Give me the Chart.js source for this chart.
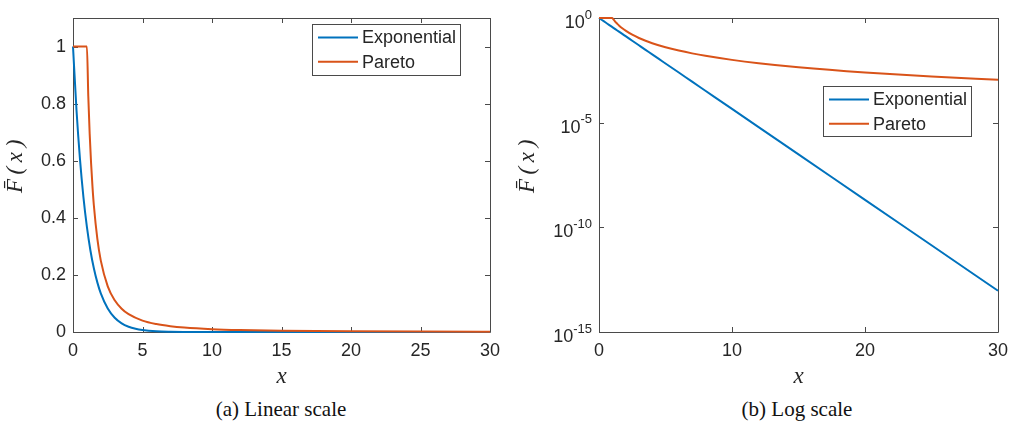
<!DOCTYPE html>
<html><head><meta charset="utf-8">
<script src="https://cdn.jsdelivr.net/npm/chart.js@4.4.1/dist/chart.umd.min.js"></script>
<style>
html,body{margin:0;padding:0;background:#fff;}
#wrap{position:relative;width:1009px;height:422px;overflow:hidden;background:#fff;}
#c1{position:absolute;left:0;top:0;width:505px;height:392px;}
#c2{position:absolute;left:505px;top:0;width:504px;height:392px;}
.cap{position:absolute;top:397px;font-family:'Liberation Serif','Times New Roman',serif;font-size:21px;color:#111;white-space:nowrap;transform:translateX(-50%);line-height:24px;}
</style></head><body>
<div id="wrap">
<canvas id="c1" width="505" height="392"></canvas>
<canvas id="c2" width="504" height="392"></canvas>
<div class="cap" style="left:281px">(a) Linear scale</div>
<div class="cap" style="left:797px">(b) Log scale</div>
</div>
<script>
// ---- data ----
const seriesNames = ['Exponential', 'Pareto'];
const expX = [0, 0.25, 0.5, 0.75, 1, 1.25, 1.5, 1.75, 2, 2.5, 3, 3.5, 4, 4.5, 5, 6, 7, 8, 10, 12, 15, 20, 25, 30];
const expY = [1, 0.7788, 0.6065, 0.4724, 0.3679, 0.2865, 0.2231, 0.1738, 0.1353, 0.0821, 0.0498, 0.0302, 0.0183, 0.0111, 0.00674, 0.00248, 9.1e-4, 3.35e-4, 4.54e-5, 6.14e-6, 3.06e-7, 2.06e-9, 1.39e-11, 9.36e-14];
const parX = [0, 1, 1.1, 1.2, 1.3, 1.4, 1.5, 1.75, 2, 2.5, 3, 3.5, 4, 5, 6, 7, 8, 10, 12, 15, 20, 25, 30];
const parY = [1, 1, 0.826, 0.694, 0.592, 0.510, 0.444, 0.327, 0.25, 0.16, 0.111, 0.0816, 0.0625, 0.04, 0.0278, 0.0204, 0.0156, 0.01, 0.00694, 0.00444, 0.0025, 0.0016, 0.00111];
const linXTicks = [0, 5, 10, 15, 20, 25, 30];
const linYTicks = [0, 0.2, 0.4, 0.6, 0.8, 1];
const logXTicks = [0, 10, 20, 30];
const logYTicks = [1e-15, 1e-10, 1e-5, 1];
const logYBase = '10';
const logYExponents = ['-15', '-10', '-5', '0'];
const xTitle = 'x';
const yTitle = '   F\u0304\u2009(\u2009x\u2009)';

// ---- styling ----
const colors = ['#0072BD', '#D95319'];
const axisColor = '#4a4a4a';
const textColor = '#262626';
const tickFont = {family: "'Liberation Sans', Arial, sans-serif", size: 18};
const titleFont = {family: "'Liberation Serif', 'Times New Roman', serif", size: 23, style: 'italic'};

function makeDatasets() {
  const sets = [[expX, expY], [parX, parY]];
  return sets.map((s, i) => ({
    label: seriesNames[i],
    data: s[0].map((x, k) => ({x: x, y: s[1][k]})),
    borderColor: colors[i],
    backgroundColor: colors[i],
    borderWidth: 2,
    pointRadius: 0,
    fill: false,
    cubicInterpolationMode: 'monotone',
    clip: 4,
    order: i === 0 ? 1 : 0
  }));
}

function logIndex(v) {
  return logYTicks.findIndex(t => Math.abs(Math.log10(t) - Math.log10(v)) < 1e-6);
}

const boxPlugin = {
  id: 'matlabBox',
  beforeDatasetsDraw(chart) {
    const {ctx, chartArea: a} = chart;
    const xs = chart.scales.x, ys = chart.scales.y;
    ctx.save();
    ctx.strokeStyle = axisColor;
    ctx.lineWidth = 1;
    ctx.beginPath();
    ctx.rect(Math.round(a.left) + 0.5, Math.round(a.top) + 0.5, Math.round(a.right - a.left), Math.round(a.bottom - a.top));
    ctx.stroke();
    const tl = 5;
    ctx.beginPath();
    xs.ticks.forEach(t => {
      const px = Math.round(xs.getPixelForValue(t.value)) + 0.5;
      ctx.moveTo(px, a.bottom); ctx.lineTo(px, a.bottom - tl);
      ctx.moveTo(px, a.top); ctx.lineTo(px, a.top + tl);
    });
    ys.ticks.forEach(t => {
      const py = Math.round(ys.getPixelForValue(t.value)) + 0.5;
      ctx.moveTo(a.left, py); ctx.lineTo(a.left + tl, py);
      ctx.moveTo(a.right, py); ctx.lineTo(a.right - tl, py);
    });
    ctx.stroke();
    // power-of-ten labels for a log axis: base plus raised exponent
    if (ys.type === 'logarithmic') {
      ctx.fillStyle = textColor;
      ctx.textAlign = 'right';
      ctx.textBaseline = 'middle';
      ys.ticks.forEach(t => {
        const k = logIndex(t.value);
        if (k < 0) return;
        const py = ys.getPixelForValue(t.value);
        const right = a.left - 7;
        ctx.font = '13px ' + tickFont.family;
        const ew = ctx.measureText(logYExponents[k]).width;
        ctx.fillText(logYExponents[k], right, py - 3);
        ctx.font = tickFont.size + 'px ' + tickFont.family;
        ctx.fillText(logYBase, right - ew, py + 5);
      });
    }
    ctx.restore();
  },
  afterDatasetsDraw(chart, args, opts) {
    if (!opts || opts.x === undefined) return;
    const ctx = chart.ctx;
    ctx.save();
    ctx.fillStyle = '#fff';
    ctx.fillRect(opts.x, opts.y, opts.w, opts.h);
    ctx.strokeStyle = axisColor;
    ctx.lineWidth = 1;
    ctx.strokeRect(opts.x + 0.5, opts.y + 0.5, opts.w, opts.h);
    ctx.font = tickFont.size + 'px ' + tickFont.family;
    ctx.textBaseline = 'middle';
    ctx.textAlign = 'left';
    chart.data.datasets.forEach((ds, i) => {
      const ly = opts.y + 13.5 + i * 24.3;
      ctx.strokeStyle = ds.borderColor;
      ctx.lineWidth = 2;
      ctx.beginPath();
      ctx.moveTo(opts.x + 6, ly); ctx.lineTo(opts.x + 46, ly);
      ctx.stroke();
      ctx.fillStyle = textColor;
      ctx.fillText(ds.label, opts.x + 50, ly + 1);
    });
    ctx.restore();
  }
};

function baseOptions(cfg) {
  return {
    responsive: false,
    animation: false,
    devicePixelRatio: 1,
    layout: {padding: {top: 18, right: cfg.padRight, left: 0, bottom: 0}},
    plugins: {
      legend: {display: false},
      tooltip: {enabled: false},
      matlabBox: cfg.legendBox
    },
    scales: {
      x: {
        type: 'linear', min: 0, max: 30,
        afterBuildTicks: s => { s.ticks = cfg.xTicks.map(v => ({value: v})); },
        afterFit: s => { s.height = 60; s.paddingLeft = 0; s.paddingRight = 0; },
        grid: {display: false, drawTicks: false},
        border: {display: false},
        ticks: {font: tickFont, color: textColor, padding: 8, maxRotation: 0, autoSkip: false},
        title: {display: true, text: xTitle, font: titleFont, color: textColor, padding: {top: 0, bottom: 1}}
      },
      y: cfg.yScale
    }
  };
}

new Chart(document.getElementById('c1'), {
  type: 'line',
  data: {datasets: makeDatasets()},
  options: baseOptions({
    padRight: 15,
    xTicks: linXTicks,
    legendBox: {x: 312, y: 24, w: 148, h: 51},
    yScale: {
      type: 'linear', min: 0, max: 1.1,
      afterBuildTicks: s => { s.ticks = linYTicks.map(v => ({value: v})); },
      afterFit: s => { s.width = 73; s.paddingTop = 0; s.paddingBottom = 0; },
      grid: {display: false, drawTicks: false},
      border: {display: false},
      ticks: {font: tickFont, color: textColor, padding: 7, callback: v => String(Math.round(v * 10) / 10)},
      title: {display: true, text: yTitle, font: titleFont, color: textColor, padding: {top: 2, bottom: 0}}
    }
  }),
  plugins: [boxPlugin]
});

new Chart(document.getElementById('c2'), {
  type: 'line',
  data: {datasets: makeDatasets()},
  options: baseOptions({
    padRight: 11,
    xTicks: logXTicks,
    legendBox: {x: 318, y: 86, w: 148, h: 50},
    yScale: {
      type: 'logarithmic', min: 1e-15, max: 1,
      afterBuildTicks: s => { s.ticks = logYTicks.map(v => ({value: v})); },
      afterFit: s => { s.width = 94; s.paddingTop = 0; s.paddingBottom = 0; },
      grid: {display: false, drawTicks: false},
      border: {display: false},
      ticks: {font: tickFont, color: 'rgba(0,0,0,0)', padding: 8,
        callback: (v) => { const k = logIndex(v); return k >= 0 ? logYBase + '^' + logYExponents[k] : ''; }},
      title: {display: true, text: yTitle, font: titleFont, color: textColor, padding: {top: 9, bottom: 0}}
    }
  }),
  plugins: [boxPlugin]
});
</script>
</body></html>
